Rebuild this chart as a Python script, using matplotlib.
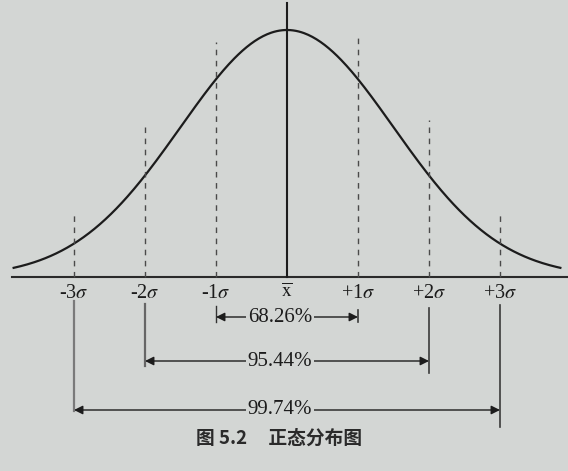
import matplotlib
matplotlib.use('Agg')
import matplotlib.pyplot as plt
import numpy as np

plt.rcParams['font.family'] = ['Liberation Serif', 'DejaVu Serif']
plt.rcParams['mathtext.fontset'] = 'stix'

# chart values
sigma_steps = [-3, -2, -1, 1, 2, 3]
tick_labels = [r'-3$\sigma$', r'-2$\sigma$', r'-1$\sigma$', r'+1$\sigma$', r'+2$\sigma$', r'+3$\sigma$']
mean_label = r'$\overline{\mathrm{x}}$'
guide_heights = [0.26, 0.61, 0.95, 0.975, 0.635, 0.25]   # dashed guide tops, peak = 1
coverage_k = [1, 2, 3]
coverage_pct = ['68.26%', '95.44%', '99.74%']
curve_spread = 1.5       # width of drawn curve in sigma units
curve_reach = 3.85       # curve drawn from -reach to +reach
caption = '图 5.2     正态分布图'

# layout (pixels of the 568x471 picture)
W, H = 568, 471
MEAN_PX, SIG_PX = 287, 71
BASE_PX, PEAK_PX = 277, 247
bg = '#d3d6d4'
ink = '#1c1c1c'


def py(p):
    return (BASE_PX - p) / PEAK_PX


fig = plt.figure(figsize=(W / 100, H / 100), dpi=100, facecolor=bg)
ax = fig.add_axes([0, 0, 1, 1], facecolor=bg)
ax.set_xlim(-MEAN_PX / SIG_PX, (W - MEAN_PX) / SIG_PX)
ax.set_ylim(py(H), py(0))
ax.axis('off')

# bell curve
z = np.linspace(-curve_reach, curve_reach, 400)
ax.plot(z, np.exp(-z ** 2 / (2 * curve_spread ** 2)), color=ink, lw=1.6)

# base line and mean line
ax.plot([-(MEAN_PX - 12) / SIG_PX, (W - MEAN_PX) / SIG_PX], [0, 0], color='#2a2a2a', lw=1.5)
ax.plot([0, 0], [0, py(3)], color=ink, lw=1.5)

# dashed sigma guides
for s, h in zip(sigma_steps, guide_heights):
    ax.plot([s, s], [0, h], color='#4a4a4a', lw=1.0, dashes=(4, 4))

# tick labels
for s, lab in zip(sigma_steps, tick_labels):
    ax.text(s, py(293), lab, ha='center', va='center', fontsize=14.5, color=ink)
ax.text(0, py(291), mean_label, ha='center', va='center', fontsize=14, color=ink)

# coverage brackets
line_top = {1: 306, 2: 304, 3: 301}
line_bot = {1: (322, 322), 2: (366, 373), 3: (411, 427)}
arrow_y = {1: 317, 2: 361, 3: 410}
line_col = {1: '#333333', 2: '#666666', 3: '#7a7a7a'}
for k, pct in zip(coverage_k, coverage_pct):
    yb_l, yb_r = line_bot[k]
    ax.plot([-k, -k], [py(line_top[k]), py(yb_l)], color=line_col[k], lw=1.6 if k > 1 else 1.0)
    ax.plot([k, k], [py(line_top[k] + 4), py(yb_r)], color='#3a3a3a', lw=1.2)
    ya = py(arrow_y[k])
    for end in (-k, k):
        ax.annotate('', xy=(end, ya), xytext=(-0.1, ya),
                    arrowprops=dict(arrowstyle='-|>', color=ink, lw=1.0,
                                    mutation_scale=13, shrinkA=0, shrinkB=0))
    ax.text(-0.1, ya, pct, ha='center', va='center', fontsize=15, color=ink,
            bbox=dict(boxstyle='square,pad=0.08', facecolor=bg, edgecolor='none'))

# caption
ax.text(-8 / SIG_PX, py(438), caption, ha='center', va='center', fontsize=13.5,
        color='#2a2a2a', family=['Noto Sans CJK SC', 'DejaVu Sans'], fontweight='bold')

fig.savefig('out.png', dpi=100, facecolor=bg)
